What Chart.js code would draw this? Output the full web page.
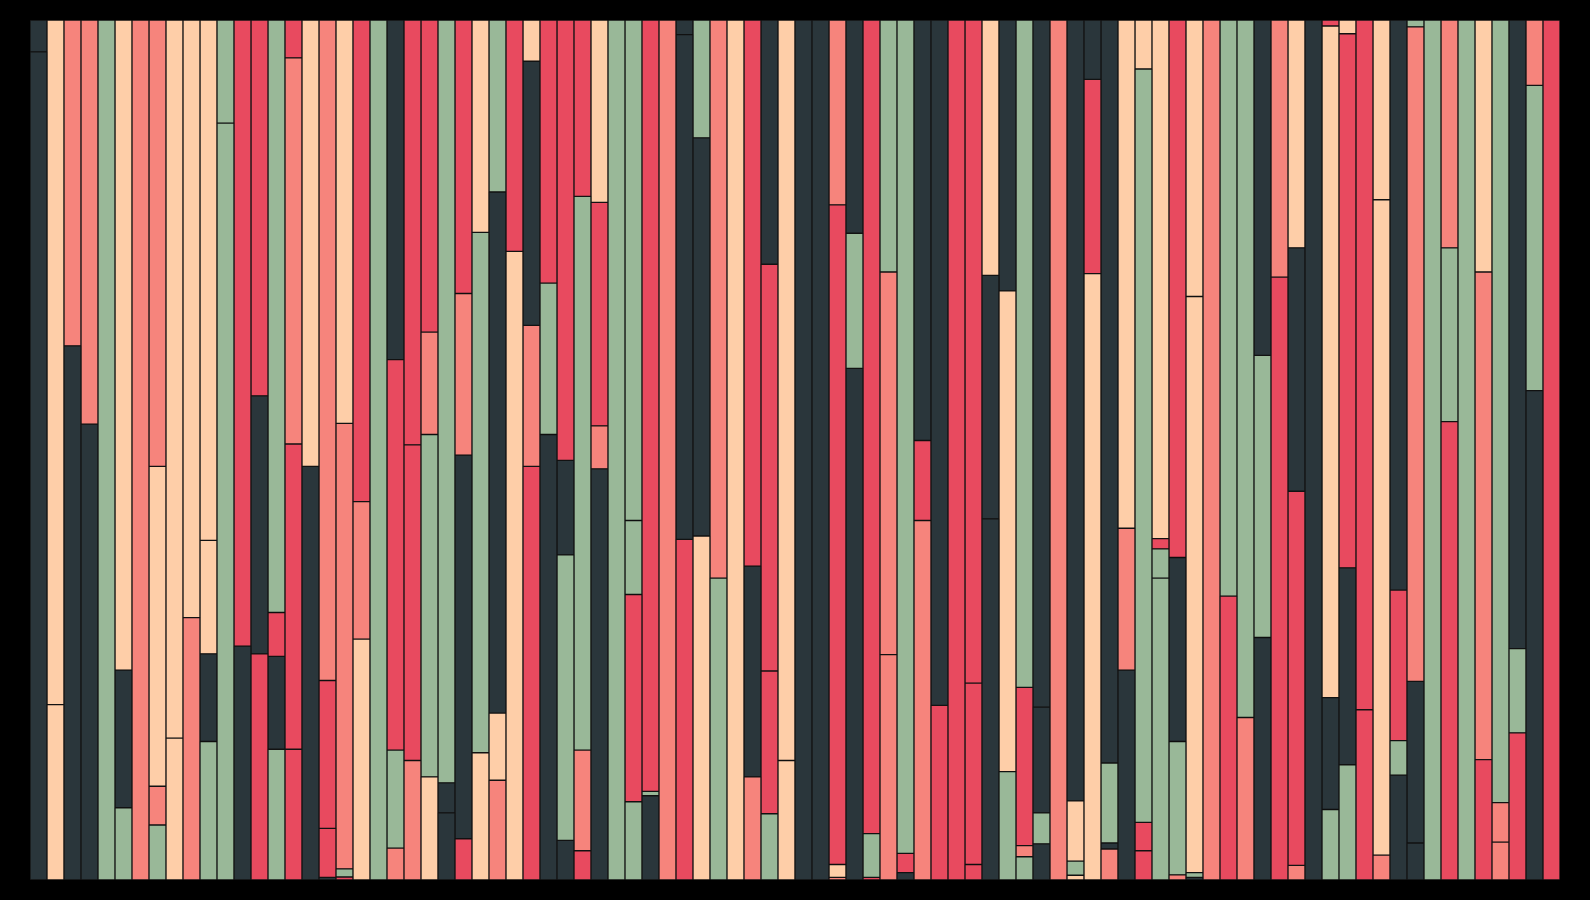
<!DOCTYPE html>
<html>
<head>
<meta charset="utf-8">
<title>Stacked bars</title>
<script src="https://cdn.jsdelivr.net/npm/chart.js@4.4.1/dist/chart.umd.min.js"></script>
<style>
  html, body { margin: 0; padding: 0; background: #000; }
  #wrap { width: 1590px; height: 900px; }
</style>
</head>
<body>
<div id="wrap"><canvas id="theCanvas"></canvas></div>
<script>
// D = slate, P = peach, S = salmon, G = sage, R = red
var palette = { D: '#2A363B', P: '#FECEA8', S: '#F6847C', G: '#99B898', R: '#E84A5F' };

// bottom segment of each bar
var layer1 = [96.3, 20.4, 62.1, 53.0, 100, 8.4, 100, 6.4, 16.5, 30.5,
              16.1, 88.0, 27.2, 26.3, 15.2, 15.2, 48.1, 0.3, 0.35, 28.0,
              100, 3.7, 13.9, 12.0, 7.8, 4.8, 14.8, 11.6, 73.1, 48.1,
              51.8, 4.6, 3.4, 47.8, 100, 9.1, 9.8, 100, 39.6, 40.0,
              35.1, 100, 12.0, 7.7, 13.9, 100, 100, 0.3, 59.5, 0.3,
              26.2, 0.85, 41.8, 20.3, 100, 1.8, 42.0, 12.6, 2.7, 4.2,
              100, 0.55, 70.5, 3.6, 24.4, 3.4, 35.1, 0.6, 0.3, 100,
              33.0, 18.9, 28.2, 70.1, 1.7, 100, 8.2, 13.4, 19.8, 2.9,
              12.2, 4.3, 100, 53.3, 100, 14.0, 4.4, 17.1, 56.9, 100];
var layer1Shade = ['D','P','D','D','G','G','S','G','P','S',
                   'G','G','D','R','G','R','D','D','R','P',
                   'G','S','S','P','D','R','P','S','P','R',
                   'D','D','R','D','G','G','D','S','R','P',
                   'G','P','S','G','P','D','D','S','D','R',
                   'S','D','S','R','R','R','D','G','G','D',
                   'S','P','P','S','D','R','G','S','D','S',
                   'R','S','D','R','S','D','G','G','R','S',
                   'D','D','G','R','G','R','S','R','D','R'];

var layer2 = [3.7, 79.6, 37.9, 47.0, 0, 16.0, 0, 4.5, 83.5, 69.5,
              10.2, 12.0, 72.8, 30.0, 10.8, 35.5, 51.9, 5.7, 0.95, 16.0,
              0, 11.4, 36.7, 39.8, 3.5, 44.6, 60.5, 7.8, 26.9, 16.4,
              17.6, 33.2, 11.7, 5.0, 0, 24.1, 0.5, 0, 58.7, 46.3,
              64.9, 0, 24.5, 16.6, 86.1, 0, 0, 1.5, 15.7, 5.1,
              44.5, 2.25, 9.3, 79.7, 0, 21.1, 28.3, 55.9, 1.3, 3.6,
              0, 1.65, 22.6, 0.7, 16.5, 3.3, 3.4, 15.5, 0.55, 0,
              67.0, 81.1, 32.8, 29.9, 43.5, 0, 13.0, 22.9, 80.2, 76.2,
              4.0, 18.8, 0, 20.2, 0, 56.7, 4.6, 9.8, 35.5, 0];
var layer2Shade = ['D','P','S','S','G','D','S','S','P','P',
                   'D','G','R','D','D','R','P','R','G','S',
                   'G','G','R','G','D','D','G','P','R','S',
                   'G','G','S','S','G','R','G','S','D','D',
                   'S','P','D','R','P','D','D','P','G','G',
                   'S','R','R','D','R','R','D','P','S','G',
                   'S','G','R','D','S','R','G','G','G','S',
                   'G','G','G','S','R','D','D','D','R','P',
                   'G','D','G','G','G','S','S','G','G','R'];

var layer3 = [0, 0, 0, 0, 0, 75.6, 0, 37.2, 0, 0,
              13.2, 0, 0, 43.7, 5.1, 44.9, 0, 17.2, 51.8, 56.0,
              0, 45.4, 49.4, 11.9, 88.7, 18.8, 24.7, 60.6, 0, 30.7,
              30.6, 11.0, 64.4, 26.0, 0, 8.6, 89.7, 0, 1.7, 13.7,
              0, 0, 63.5, 47.3, 0, 0, 0, 76.7, 24.8, 94.6,
              29.3, 96.9, 48.9, 0, 0, 77.1, 29.7, 31.5, 18.4, 12.3,
              0, 7.0, 6.9, 9.3, 59.1, 87.6, 1.2, 21.4, 67.0, 0,
              0, 0, 39.0, 0, 28.3, 0, 78.1, 62.1, 0, 20.9,
              17.5, 76.1, 0, 26.5, 0, 29.3, 91.0, 73.1, 7.6, 0];
var layer3Shade = ['D','P','S','S','G','P','S','P','P','P',
                   'P','G','R','R','R','S','P','R','S','R',
                   'G','R','R','S','G','S','P','D','R','D',
                   'R','D','G','R','G','G','R','S','D','G',
                   'S','P','R','R','P','D','D','R','D','R',
                   'G','G','D','D','R','R','P','D','R','D',
                   'S','P','D','G','P','G','R','D','P','S',
                   'G','G','D','S','D','D','P','R','R','P',
                   'R','S','G','S','G','P','G','D','S','R'];

var layer4 = [0, 0, 0, 0, 0, 0, 0, 51.9, 0, 0,
              60.5, 0, 0, 0, 68.9, 4.4, 0, 76.8, 46.9, 0,
              0, 39.5, 0, 36.3, 0, 31.8, 0, 20.0, 0, 4.8,
              0, 51.2, 20.5, 21.2, 0, 58.2, 0, 0, 0, 0,
              0, 0, 0, 28.4, 0, 0, 0, 21.5, 0, 0,
              0, 0, 0, 0, 0, 0, 0, 0, 77.6, 79.9,
              0, 90.8, 0, 86.4, 0, 5.7, 60.3, 62.5, 32.15, 0,
              0, 0, 0, 0, 26.5, 0, 0.7, 1.6, 0, 0,
              66.3, 0.8, 0, 0, 0, 0, 0, 0, 0, 0];
var layer4Shade = ['D','P','S','S','G','P','S','S','P','P',
                   'P','G','R','R','G','R','P','S','P','R',
                   'G','D','R','R','G','R','P','G','R','P',
                   'R','R','R','P','G','G','R','S','D','G',
                   'S','P','R','D','P','D','D','S','D','R',
                   'G','G','D','D','R','R','P','D','G','D',
                   'S','D','D','D','P','P','P','R','P','S',
                   'G','G','D','S','P','D','R','P','R','P',
                   'D','G','G','S','G','P','G','D','S','R'];

var labels = [];
for (var i = 0; i < layer1.length; i++) {
    labels.push(String(i + 1));
}

function shadeColors(codes) {
    return codes.map(function (c) { return palette[c]; });
}

function makeLayer(name, values, codes) {
    return {
        label: name,
        data: values,
        backgroundColor: shadeColors(codes),
        borderColor: '#121212',
        borderWidth: 1,
        borderSkipped: false,
        barPercentage: 1,
        categoryPercentage: 1
    };
}

var ctx = document.getElementById('theCanvas');

var myChart = new Chart(ctx, {
    type: 'bar',
    data: {
        labels: labels,
        datasets: [
            makeLayer('Layer 1', layer1, layer1Shade),
            makeLayer('Layer 2', layer2, layer2Shade),
            makeLayer('Layer 3', layer3, layer3Shade),
            makeLayer('Layer 4', layer4, layer4Shade)
        ]
    },
    options: {
        responsive: true,
        maintainAspectRatio: false,
        animation: false,
        devicePixelRatio: 1,
        layout: { padding: { left: 30, right: 30, top: 20, bottom: 20 } },
        plugins: {
            legend: { display: false },
            tooltip: { enabled: false }
        },
        scales: {
            x: { stacked: true, display: false },
            y: { stacked: true, display: false, min: 0, max: 100 }
        }
    }
});
</script>
</body>
</html>
